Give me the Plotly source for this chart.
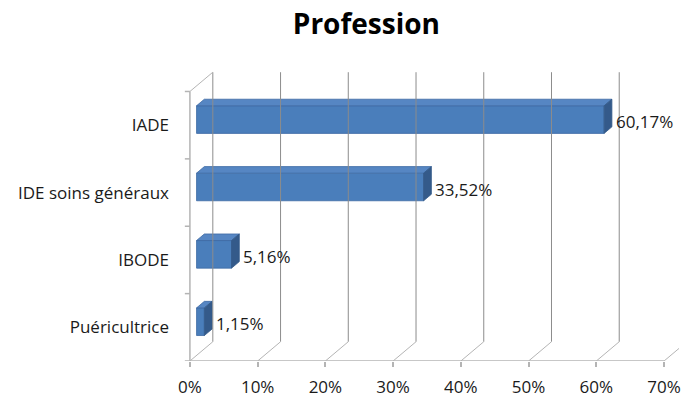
import plotly.graph_objects as go

# Data
categories = ["Puéricultrice", "IBODE", "IDE soins généraux", "IADE"]
values = [1.15, 5.16, 33.52, 60.17]
value_labels = ["1,15%", "5,16%", "33,52%", "60,17%"]
x_ticks = [0, 10, 20, 30, 40, 50, 60, 70]
x_tick_labels = ["0%", "10%", "20%", "30%", "40%", "50%", "60%", "70%"]

# Pseudo-3D geometry (in data units)
DX = 3.38        # depth offset along x (percent units)
DY = 0.286       # depth offset along y (category units)
F_FRONT = 0.29   # depth fraction of the bar front face
F_BACK = 0.63    # depth fraction of the bar back face
BAR_W = 0.41
FONT = "Open Sans"

C_FRONT = "#4a7ebb"
C_TOP = "#5686c3"
C_SIDE = "#345a8a"
C_EDGE = "#3d6aa3"
GRID = "#8c8c8c"
WALL = "#b4b4b4"
TEXT = "#1a1a1a"

idx = list(range(len(categories)))
y_lo, y_hi = -0.5, len(categories) - 0.5

fig = go.Figure()

# Walls and gridlines
shapes = []
for t in x_ticks:
    # back wall gridline
    shapes.append(dict(type="line", xref="x", yref="y",
                       x0=t + DX, x1=t + DX, y0=y_lo + DY, y1=y_hi + DY,
                       line=dict(color=GRID, width=1)))
    # floor diagonal
    shapes.append(dict(type="line", xref="x", yref="y",
                       x0=t, x1=t + DX, y0=y_lo, y1=y_lo + DY,
                       line=dict(color=WALL, width=1)))
# floor front edge
shapes.append(dict(type="line", xref="x", yref="y", x0=0, x1=x_ticks[-1],
                   y0=y_lo, y1=y_lo, line=dict(color=WALL, width=1.5)))
# left wall front edge and top diagonal
shapes.append(dict(type="line", xref="x", yref="y", x0=0, x1=0,
                   y0=y_lo, y1=y_hi, line=dict(color=WALL, width=1.5)))
shapes.append(dict(type="line", xref="x", yref="y", x0=0, x1=DX,
                   y0=y_hi, y1=y_hi + DY, line=dict(color=WALL, width=1)))
# category boundary ticks on the left wall
for k in range(len(categories) + 1):
    yb = y_lo + k
    shapes.append(dict(type="line", xref="x", yref="y", x0=-0.75, x1=0,
                       y0=yb, y1=yb, line=dict(color=WALL, width=1.5)))

# Bar side and top faces
for i, v in zip(idx, values):
    y0 = i + F_FRONT * DY - BAR_W / 2
    y1 = i + F_FRONT * DY + BAR_W / 2
    d = F_BACK - F_FRONT
    xf0, xf1 = F_FRONT * DX, v + F_FRONT * DX
    # top face
    fig.add_trace(go.Scatter(
        x=[xf0, xf1, xf1 + d * DX, xf0 + d * DX, xf0],
        y=[y1, y1, y1 + d * DY, y1 + d * DY, y1],
        fill="toself", fillcolor=C_TOP, mode="lines",
        line=dict(color=C_EDGE, width=0.8), hoverinfo="skip", showlegend=False))
    # right side face
    fig.add_trace(go.Scatter(
        x=[xf1, xf1 + d * DX, xf1 + d * DX, xf1, xf1],
        y=[y0, y0 + d * DY, y1 + d * DY, y1, y0],
        fill="toself", fillcolor=C_SIDE, mode="lines",
        line=dict(color=C_SIDE, width=0.8), hoverinfo="skip", showlegend=False))

# Bar front faces
fig.add_trace(go.Bar(
    orientation="h",
    y=[i + F_FRONT * DY for i in idx],
    x=values,
    base=[F_FRONT * DX] * len(values),
    width=BAR_W,
    marker=dict(color=C_FRONT, line=dict(color=C_EDGE, width=0.8)),
    hoverinfo="skip", showlegend=False))

# Value labels, placed just past each bar's back edge
annotations = [
    dict(x=v + F_BACK * DX, y=i + 0.05, xref="x", yref="y",
         text=lab, showarrow=False, xanchor="left", yanchor="middle", xshift=2,
         font=dict(family=FONT, size=17, color=TEXT))
    for i, v, lab in zip(idx, values, value_labels)
]

PX_PER_X = 6.8
L_MARGIN = 170
x_min = -20 / PX_PER_X
x_max = x_min + (681 - L_MARGIN) / PX_PER_X

fig.update_layout(
    width=681, height=398,
    margin=dict(l=L_MARGIN, r=0, t=40, b=35),
    paper_bgcolor="white", plot_bgcolor="white",
    title=dict(text="<b>Profession</b>", x=0.538, xanchor="center",
               y=0.94, yanchor="middle",
               font=dict(family=FONT, size=28, color="#000000")),
    shapes=shapes,
    annotations=annotations,
    barmode="overlay",
    xaxis=dict(range=[x_min, x_max], tickvals=x_ticks, ticktext=x_tick_labels,
               ticks="outside", ticklen=5, tickcolor=WALL, tickwidth=1.5,
               ticklabelstandoff=6, ticklabeloverflow="allow",
               showgrid=False, zeroline=False, showline=False,
               tickfont=dict(family=FONT, size=17, color=TEXT),
               fixedrange=True),
    yaxis=dict(range=[y_lo, y_lo + (398 - 40 - 35) / 67.8],
               tickvals=idx, ticktext=categories, ticks="",
               showgrid=False, zeroline=False, showline=False,
               ticklabelstandoff=0,
               tickfont=dict(family=FONT, size=17, color=TEXT),
               fixedrange=True),
)

fig.write_html("out.html")
